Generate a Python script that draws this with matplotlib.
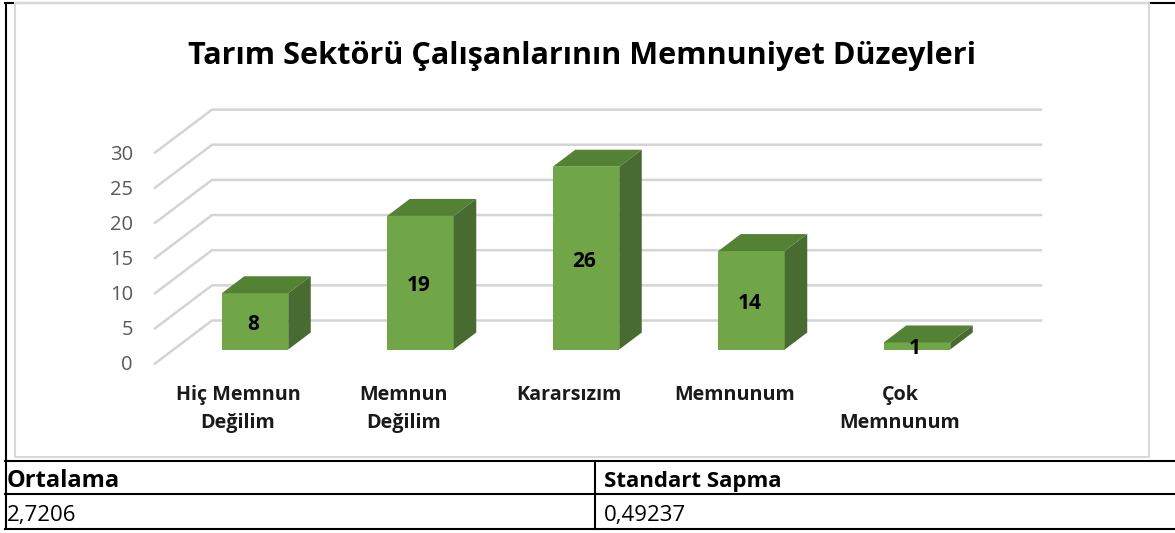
import matplotlib
matplotlib.use("Agg")
import matplotlib.pyplot as plt
from matplotlib.patches import Polygon, Rectangle

categories = ["Hiç Memnun\nDeğilim", "Memnun\nDeğilim", "Kararsızım", "Memnunum", "Çok\nMemnunum"]
values = [8, 19, 26, 14, 1]
yticks = [0, 5, 10, 15, 20, 25, 30]
title = "Tarım Sektörü Çalışanlarının Memnuniyet Düzeyleri"
table_head = ["Ortalama", "Standart Sapma"]
table_vals = ["2,7206", "0,49237"]

W, H = 1175, 533
plt.rcParams['font.family'] = ['Open Sans', 'DejaVu Sans']

fig = plt.figure(figsize=(W/100, H/100), dpi=100)

# pixel layout of the fake 3d chart
x0 = 255; step = 165.5; y0 = 349.5; unit = 7.03
bw = 66.5; ddx = 22.5; ddy = 17

ax = fig.add_axes([0, 0, 1, 1])
ax.set_xlim((0-x0)/step, (W-x0)/step)
ax.set_ylim((y0-H)/unit, y0/unit)
ax.axis("off")

px = 1/step
pu = 1/unit

# pixels to data
def dx(p): return (p-x0)/step
def dy(p): return (y0-p)/unit

# table and outer border
for yp in [3, 461, 494, 529]:
    ax.plot([dx(5), dx(1175)], [dy(yp), dy(yp)], color="black", lw=1.5, zorder=5)
ax.plot([dx(6), dx(6)], [dy(3), dy(529)], color="black", lw=1.5, zorder=5)
ax.plot([dx(595), dx(595)], [dy(461), dy(529)], color="black", lw=1.5, zorder=5)

# frame of the chart cell
ax.plot([dx(15), dx(15), dx(1149), dx(1149), dx(15)], [dy(3), dy(457), dy(457), dy(3), dy(3)], color="#d9d9d9", lw=1.5, zorder=6)

# gridlines: back wall plus floor/side part
for t in yticks:
    yb = t + 29*pu
    yf = t - 14*pu
    ax.plot([dx(155), dx(212), dx(1041)], [yf, yb, yb], color="#d4d4d4", lw=1.8, zorder=2, solid_joinstyle="miter")
    ax.text(dx(133), yf - 2*pu, str(t), ha="right", va="center", fontsize=14.5, color="#595959")

# bars
for i, v in enumerate(values):
    hw = bw*px/2
    d_x = ddx*px; d_y = ddy*pu
    ax.add_patch(Rectangle((i-hw, 0), 2*hw, v, fc="#70a548", ec="none", zorder=3))
    ax.add_patch(Polygon([(i-hw, v), (i+hw, v), (i+hw+d_x, v+d_y), (i-hw+d_x, v+d_y)], fc="#548235", ec="none", zorder=3))
    ax.add_patch(Polygon([(i+hw, 0), (i+hw, v), (i+hw+d_x, v+d_y), (i+hw+d_x, d_y)], fc="#476b30", ec="none", zorder=3))
    ax.text(i-2*px, v/2 - 3*pu if v > 2 else 0.2, str(v), ha="center", va="center", fontsize=15, fontweight="bold", color="black", zorder=4)
    ax.text(i-17*px, dy(385), categories[i], ha="center", va="top", fontsize=14.2, fontweight="bold", color="#1a1a1a", linespacing=1.52)

ax.text(dx(582), dy(56), title, ha="center", va="center", fontsize=22.1, fontweight="bold", color="black")

ax.text(dx(7), dy(481), table_head[0], ha="left", va="center", fontsize=17, fontweight="bold", color="black")
ax.text(dx(604), dy(481), table_head[1], ha="left", va="center", fontsize=16, fontweight="bold", color="black")
ax.text(dx(7), dy(515), table_vals[0], ha="left", va="center", fontsize=16, color="black")
ax.text(dx(604), dy(515), table_vals[1], ha="left", va="center", fontsize=16, color="black")

plt.savefig("out.png", dpi=100)
